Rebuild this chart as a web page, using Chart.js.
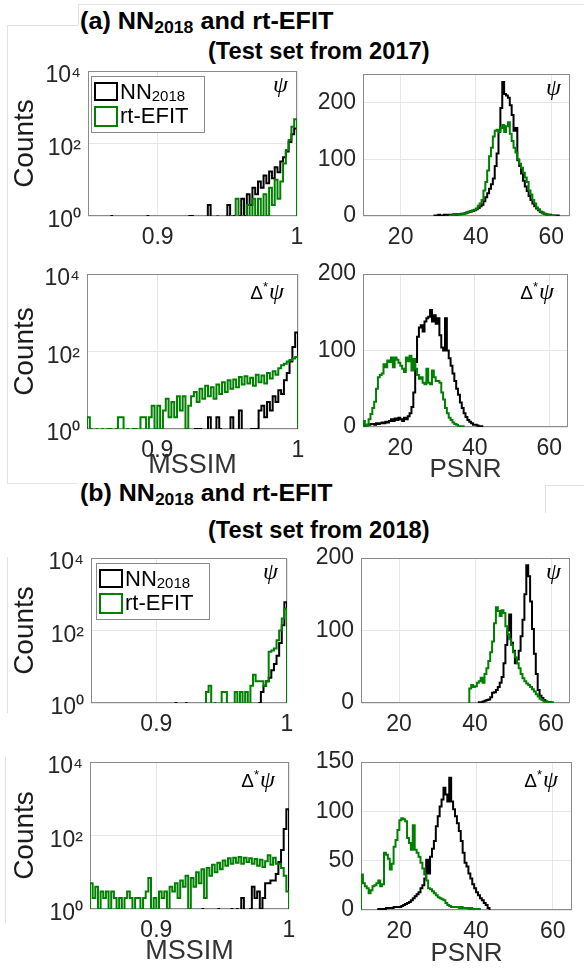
<!DOCTYPE html>
<html lang="en">
<head>
<meta charset="UTF-8">
<title>MSSIM and PSNR histograms</title>
<script src="https://cdn.jsdelivr.net/npm/chart.js"></script>
<style>
  body { margin: 0; background: #fff; width: 584px; height: 971px; position: relative; overflow: hidden;
         font-family: 'Liberation Sans', Arial, sans-serif; }
  canvas { position: absolute; }
  .title { position: absolute; font-weight: bold; color: #000; white-space: nowrap; line-height: 1;
           transform-origin: left top; font-size: 23px; }
  .title sub { font-size: 0.7em; vertical-align: -0.25em; line-height: 0; }
  .frame { position: absolute; background: #e2e2e2; }
</style>
</head>
<body>
<div class="frame" style="left:78px;top:4px;width:506px;height:1px"></div>
<div class="frame" style="left:78px;top:4px;width:1px;height:21px"></div>
<div class="frame" style="left:7px;top:25px;width:71px;height:1px"></div>
<div class="frame" style="left:7px;top:25px;width:1px;height:458px"></div>
<div class="frame" style="left:7px;top:483px;width:70px;height:1px"></div>
<div class="frame" style="left:545px;top:485px;width:39px;height:1px"></div>
<div class="frame" style="left:545px;top:485px;width:1px;height:28px"></div>
<div class="frame" style="left:7px;top:557px;width:1px;height:156px"></div>
<div class="frame" style="left:5px;top:757px;width:1px;height:166px"></div>

<div class="title" data-w="253" style="left:80px;top:10px">(a) NN<sub>2018</sub> and rt-EFIT</div>
<div class="title" data-w="222" style="left:208px;top:40px">(Test set from 2017)</div>
<div class="title" data-w="253" style="left:80px;top:482px">(b) NN<sub>2018</sub> and rt-EFIT</div>
<div class="title" data-w="222" style="left:208px;top:519px">(Test set from 2018)</div>

<canvas id="p1" width="305" height="204" style="left:0;top:58px"></canvas>
<canvas id="p2" width="294" height="204" style="left:290px;top:58px"></canvas>
<canvas id="p3" width="305" height="223" style="left:0;top:262px"></canvas>
<canvas id="p4" width="294" height="223" style="left:290px;top:262px"></canvas>
<canvas id="p5" width="305" height="200" style="left:0;top:545px"></canvas>
<canvas id="p6" width="294" height="200" style="left:290px;top:545px"></canvas>
<canvas id="p7" width="305" height="223" style="left:0;top:748px"></canvas>
<canvas id="p8" width="294" height="223" style="left:290px;top:748px"></canvas>

<script>
// histogram bins
const MSSIM_START = 0.85;
const MSSIM_WIDTH = 0.002;   // 75 bins, 0.85 .. 1.0
const PSNR_WIDTH = 0.5;

// tick values
const mssimTicks = [0.9, 1];
const psnrTicks = [20, 40, 60];
const logTicks = [1, 100, 10000];
const countTicks200 = [0, 100, 200];
const countTicks150 = [0, 50, 100, 150];

// (a) test set from 2017, psi, MSSIM
const aPsiMssimNN = [
  0,0,0,0,0,0,0,0,1,0, 0,0,0,0,0,0,0,0,0,0, 0,1,0,0,0,0,0,0,0,0, 0,0,0,0,0,0,1,1,0,0,
  0,0,0,2,0,0,0,0,0,0, 2,0,1,0,1,3,1,4,2,6, 4,9,6,13,8,17,11,22,16,32, 42,60,110,180,260];
const aPsiMssimEFIT = [
  0,0,0,0,0,0,0,0,0,0, 0,0,0,0,0,0,0,0,0,0, 0,0,0,0,0,0,0,0,0,0, 0,0,0,0,0,0,0,0,0,0,
  0,0,0,0,0,0,1,0,0,0, 0,1,0,3,0,1,0,2,0,3, 1,3,1,4,1,6,2,10,3,9, 28,66,125,290,466];

// (a) psi, PSNR
const aPsiPsnrNNStart = 29;
const aPsiPsnrNN = [
  1,1,2,1,1,2,2,1,2,2, 3,2,3,3,4,4,5,6,7,8, 9,10,12,14,17,20,26,33,40,48,
  56,66,88,110,150,190,236,215,212,208, 195,178,150,155,98,88,75,62,52,44,
  35,28,22,17,13,10,7,6,4,3, 2,2,1,1,1,1];
const aPsiPsnrEFITStart = 33;
const aPsiPsnrEFIT = [
  1,1,2,2,2,3,3,4,5,6, 8,9,10,11,13,18,22,28,45,60, 80,105,120,140,150,152,148,155,160,148,
  158,165,145,132,120,112,100,92,85,76, 68,60,45,38,28,22,15,12,8,5, 4,3,2,1,1,1];

// (a) delta* psi, MSSIM
const aDpsiMssimNN = [
  0,0,0,0,0,0,0,0,0,0, 0,0,0,0,0,0,0,0,0,0, 0,0,0,0,0,0,0,0,0,0, 0,0,0,0,0,0,0,0,1,1,
  1,0,0,2,0,0,2,1,0,0, 0,2,0,0,3,0,0,0,1,1, 1,3,4,2,5,3,7,5,10,8, 18,28,55,130,310];
const aDpsiMssimEFIT = [
  2,1,0,1,0,1,0,1,1,0, 1,2,2,0,1,0,1,1,0,2, 2,0,2,4,1,4,1,3,6,2, 5,2,7,3,7,1,4,7,9,5,
  11,6,13,7,12,6,14,8,16,9, 18,11,19,12,22,14,23,15,21,13, 25,16,24,15,28,20,31,25,37,44, 48,55,60,66,72];

// (a) delta* psi, PSNR
const aDpsiPsnrNNStart = 10;
const aDpsiPsnrNN = [
  3,2,3,3,4,4,3,5,4,5, 6,5,7,6,8,10,8,11,9,12, 10,8,12,10,14,18,26,45,85,118,
  130,133,125,138,142,144,153,138,146,135, 142,120,104,100,142,100,90,80,70,60,
  50,42,32,25,18,13,9,7,5,3, 3,2,1,1];
const aDpsiPsnrEFITStart = 10;
const aDpsiPsnrEFIT = [
  8,3,2,10,17,25,33,50,65,68, 70,82,78,87,85,91,78,91,88,84, 80,76,72,91,86,93,74,89,76,68,
  63,65,58,56,76,58,56,74,65,60, 60,58,45,36,25,18,12,9,6,4, 3,1,1,1];

// (b) test set from 2018, psi, MSSIM
const bPsiMssimNN = [
  0,0,0,0,0,0,0,0,0,0, 0,0,0,0,0,0,0,0,0,0, 0,0,0,0,0,0,0,0,0,0, 0,0,1,0,0,0,1,0,0,0,
  0,0,0,0,0,0,0,0,0,0, 0,0,0,0,0,0,0,0,0,0, 0,0,0,0,1,2,3,4,5,8, 12,20,45,140,600];
const bPsiMssimEFIT = [
  0,0,0,0,0,0,0,0,0,0, 0,0,0,0,0,0,0,0,0,0, 0,0,0,0,0,0,0,0,0,0, 0,0,0,0,0,0,0,0,0,0,
  0,0,0,0,2,3,0,1,0,0, 2,2,0,0,0,2,0,2,0,2, 0,3,6,4,4,4,3,4,26,28, 32,54,100,214,400];

// (b) psi, PSNR
const bPsiPsnrNNStart = 41;
const bPsiPsnrNN = [
  1,1,2,3,4,5,8,14,15,18, 22,28,36,55,80,100,122,83,72,55,
  60,72,92,115,150,190,175,140,102,68, 40,18,10,7,4,2,1,1];
const bPsiPsnrEFITStart = 38.5;
const bPsiPsnrEFIT = [
  20,25,22,23,28,30,35,28,40,48, 58,70,85,110,132,127,120,128,124,106,
  95,88,80,70,63,55,48,40,34,30, 27,25,22,19,16,12,9,6,4,2, 2,1,1,1];

// (b) delta* psi, MSSIM
const bDpsiMssimNN = [
  0,0,0,0,0,0,0,0,0,0, 0,0,0,0,0,0,0,0,0,0, 0,0,0,0,0,0,0,0,0,0, 0,0,0,0,0,0,0,0,0,0,
  0,0,1,0,0,0,0,0,1,0, 0,0,0,1,0,1,0,2,0,0, 1,4,2,3,1,2,5,5,6,6, 9,19,40,150,520];
const bDpsiMssimEFIT = [
  5,2,4,1,3,2,3,1,3,2, 1,2,0,2,3,2,0,2,2,1, 2,3,7,1,2,0,3,2,3,1, 4,3,5,2,6,4,8,1,7,4,
  10,5,12,2,13,8,16,10,18,12, 21,15,24,17,25,18,26,17,25,19, 24,17,23,15,22,14,20,29,16,25, 17,17,13,8,3];

// (b) delta* psi, PSNR
const bDpsiPsnrNNStart = 14.5;
const bDpsiPsnrNN = [
  1,1,1,1,2,2,2,2,3,3, 3,3,4,5,6,7,8,10,12,14, 16,18,22,25,32,51,37,54,62,70,
  85,95,105,112,124,117,110,134,110,102, 95,88,80,70,58,48,44,37,32,26,
  22,18,15,12,10,7,5,2];
const bDpsiPsnrEFITStart = 10;
const bDpsiPsnrEFIT = [
  36,27,24,22,17,20,24,25,27,30, 24,26,58,56,52,41,47,64,71,81, 91,93,92,90,73,68,61,86,61,58,
  54,48,42,36,30,22,21,19,17,15, 13,12,11,10,7,5,4,3,3,3, 3,2,3,2,2,2,1,2,1,1, 1,1];

const NN_COLOR = '#000000';
const EFIT_COLOR = '#008000';
const FONT = "'Liberation Sans', Arial, sans-serif";
const SUP = {0: '\u2070', 2: '\u00b2', 4: '\u2074'};

// stairs outline of a histogram; bins with zero count leave a gap (as on a log axis)
function stairs(start, width, counts, base) {
  const pts = [];
  let prev = 0;
  counts.forEach((c, i) => {
    const x0 = start + i * width;
    if (c > 0) {
      if (prev === 0) pts.push({x: x0, y: base});
      pts.push({x: x0, y: c}, {x: x0 + width, y: c});
    } else if (prev > 0) {
      pts.push({x: x0, y: base}, {x: x0, y: null});
    }
    prev = c;
  });
  if (prev > 0) pts.push({x: start + counts.length * width, y: base});
  return pts;
}

const decor = {
  id: 'decor',
  beforeDatasetsDraw(chart) {
    const a = chart.chartArea, ctx = chart.ctx;
    ctx.save();
    ctx.strokeStyle = '#8a8a8a';
    ctx.lineWidth = 1;
    ctx.strokeRect(a.left + 0.5, a.top + 0.5, a.width - 1, a.height - 1);
    ctx.restore();
  },
  afterDatasetsDraw(chart, args, opts) {
    const a = chart.chartArea, ctx = chart.ctx;
    ctx.save();
    ctx.fillStyle = '#000';
    ctx.textBaseline = 'alphabetic';
    ctx.textAlign = 'left';
    if (opts.label === 'psi') {
      ctx.font = "italic 24px 'Liberation Serif', serif";
      const w = ctx.measureText('\u03c8').width;
      ctx.fillText('\u03c8', a.right - 9 - w, a.top + 21);
    } else if (opts.label === 'dpsi') {
      const f1 = "19px " + FONT, f2 = "13px " + FONT, f3 = "italic 24px 'Liberation Serif', serif";
      ctx.font = f1; const w1 = ctx.measureText('\u0394').width;
      ctx.font = f2; const w2 = ctx.measureText('*').width;
      ctx.font = f3; const w3 = ctx.measureText('\u03c8').width;
      let x = a.right - 14 - (w1 + w2 + w3 + 1);
      const y = a.top + 25;
      ctx.font = f1; ctx.fillText('\u0394', x, y); x += w1;
      ctx.font = f2; ctx.fillText('*', x, y - 8); x += w2 + 1;
      ctx.font = f3; ctx.fillText('\u03c8', x, y);
    }
    if (opts.legend) {
      const bx = a.left + opts.legend[0], by = a.top + opts.legend[1];
      ctx.fillStyle = '#fff';
      ctx.fillRect(bx, by, 113, 56);
      ctx.strokeStyle = '#8a8a8a';
      ctx.lineWidth = 1;
      ctx.strokeRect(bx + 0.5, by + 0.5, 113, 56);
      ctx.lineWidth = 2;
      ctx.strokeStyle = NN_COLOR;
      ctx.strokeRect(bx + 4, by + 7, 22, 17);
      ctx.strokeStyle = EFIT_COLOR;
      ctx.strokeRect(bx + 4, by + 31, 22, 19);
      ctx.fillStyle = '#000';
      ctx.font = "22px " + FONT;
      ctx.fillText('NN', bx + 29, by + 23);
      const wn = ctx.measureText('NN').width;
      ctx.font = "15px " + FONT;
      ctx.fillText('2018', bx + 29 + wn, by + 25);
      ctx.font = "22px " + FONT;
      ctx.fillText('rt-EFIT', bx + 29, by + 47);
    }
    ctx.restore();
  }
};

function makeChart(p) {
  const cv = document.getElementById(p.id);
  const [L, T, R, B] = p.area;
  const cx = parseFloat(cv.style.left), cy = parseFloat(cv.style.top);
  const yW = L - cx, padTop = T - cy, padRight = cx + cv.width - R, xH = cy + cv.height - B;
  const isLog = p.log;
  const tickFont = {family: FONT, size: 23};
  const yTitle = p.yTitle ? {display: true, text: 'Counts', color: '#1a1a1a',
    font: {family: FONT, size: 28, lineHeight: 1}, padding: {top: 11, bottom: 0}} : {display: false};
  const xTitle = p.xTitle ? {display: true, text: p.xTitle, color: '#333',
    font: {family: FONT, size: p.xTitleSize, lineHeight: 1}, padding: {top: 0, bottom: p.xTitlePad}} : {display: false};
  const base = isLog ? 1 : 0;
  new Chart(cv, {
    type: 'line',
    data: {
      datasets: [
        {label: 'rt-EFIT', data: stairs(p.efit[0], p.efit[1], p.efit[2], base),
         borderColor: EFIT_COLOR, borderWidth: 2, pointRadius: 0, tension: 0, spanGaps: false},
        {label: 'NN2018', data: stairs(p.nn[0], p.nn[1], p.nn[2], base),
         borderColor: NN_COLOR, borderWidth: 2, pointRadius: 0, tension: 0, spanGaps: false}
      ]
    },
    options: {
      responsive: false,
      animation: false,
      events: [],
      layout: {autoPadding: false, padding: {left: 0, top: padTop, right: padRight, bottom: 0}},
      plugins: {legend: {display: false}, tooltip: {enabled: false}, decor: {label: p.label, legend: p.legend}},
      scales: {
        x: {
          type: 'linear', min: p.xMin, max: p.xMax,
          afterBuildTicks: s => { s.ticks = p.xTicks.map(v => ({value: v})); },
          afterFit: s => { s.height = xH; s.paddingLeft = 0; s.paddingRight = 0; },
          ticks: {font: tickFont, color: '#262626', padding: 8, maxRotation: 0, autoSkip: false,
                  callback: v => String(v)},
          grid: {color: '#e6e6e6', drawTicks: false},
          border: {display: false},
          title: xTitle
        },
        y: {
          type: isLog ? 'logarithmic' : 'linear', min: p.yMin, max: p.yMax,
          afterBuildTicks: s => { s.ticks = p.yTicks.map(v => ({value: v})); },
          afterFit: s => { s.width = yW; s.paddingTop = 0; s.paddingBottom = 0; },
          ticks: {font: tickFont, color: '#262626', padding: 7, autoSkip: false,
                  labelOffset: isLog ? 5 : 0,
                  callback: v => isLog ? '10' + SUP[Math.round(Math.log10(v))] : String(v)},
          grid: {color: '#e6e6e6', drawTicks: false},
          border: {display: false},
          title: yTitle
        }
      }
    },
    plugins: [decor]
  });
}

const mssimX = {xMin: 0.85, xMax: 1, xTicks: mssimTicks, log: true, yMin: 1, yMax: 10000, yTicks: logTicks, yTitle: true};
const psnrX = {xMin: 10, xMax: 65, xTicks: psnrTicks, log: false, yMin: 0};

const panels = [
  Object.assign({id: 'p1', area: [88, 71, 297, 216], label: 'psi', legend: [3, 5],
    nn: [MSSIM_START, MSSIM_WIDTH, aPsiMssimNN], efit: [MSSIM_START, MSSIM_WIDTH, aPsiMssimEFIT]}, mssimX),
  Object.assign({id: 'p2', area: [363, 74, 570, 216], label: 'psi', yMax: 250, yTicks: countTicks200,
    nn: [aPsiPsnrNNStart, PSNR_WIDTH, aPsiPsnrNN], efit: [aPsiPsnrEFITStart, PSNR_WIDTH, aPsiPsnrEFIT]}, psnrX),
  Object.assign({id: 'p3', area: [87, 274, 298, 429], label: 'dpsi', xTitle: 'MSSIM', xTitleSize: 27, xTitlePad: 6,
    nn: [MSSIM_START, MSSIM_WIDTH, aDpsiMssimNN], efit: [MSSIM_START, MSSIM_WIDTH, aDpsiMssimEFIT]}, mssimX),
  Object.assign({id: 'p4', area: [363, 274, 568, 427], label: 'dpsi', yMax: 200, yTicks: countTicks200,
    xTitle: 'PSNR', xTitleSize: 26, xTitlePad: 2,
    nn: [aDpsiPsnrNNStart, PSNR_WIDTH, aDpsiPsnrNN], efit: [aDpsiPsnrEFITStart, PSNR_WIDTH, aDpsiPsnrEFIT]}, psnrX),
  Object.assign({id: 'p5', area: [91, 558, 287, 703], label: 'psi', legend: [5, 5],
    nn: [MSSIM_START, MSSIM_WIDTH, bPsiMssimNN], efit: [MSSIM_START, MSSIM_WIDTH, bPsiMssimEFIT]}, mssimX),
  Object.assign({id: 'p6', area: [361, 558, 570, 703], label: 'psi', yMax: 200, yTicks: countTicks200,
    nn: [bPsiPsnrNNStart, PSNR_WIDTH, bPsiPsnrNN], efit: [bPsiPsnrEFITStart, PSNR_WIDTH, bPsiPsnrEFIT]}, psnrX),
  Object.assign({id: 'p7', area: [90, 762, 289, 909], label: 'dpsi', xTitle: 'MSSIM', xTitleSize: 27, xTitlePad: 6,
    nn: [MSSIM_START, MSSIM_WIDTH, bDpsiMssimNN], efit: [MSSIM_START, MSSIM_WIDTH, bDpsiMssimEFIT]}, mssimX),
  Object.assign({id: 'p8', area: [361, 762, 572, 910], label: 'dpsi', yMax: 150, yTicks: countTicks150,
    xTitle: 'PSNR', xTitleSize: 26, xTitlePad: 4,
    nn: [bDpsiPsnrNNStart, PSNR_WIDTH, bDpsiPsnrNN], efit: [bDpsiPsnrEFITStart, PSNR_WIDTH, bDpsiPsnrEFIT]}, psnrX)
];

panels.forEach(makeChart);

// stretch the panel titles to the width they have in the figure
document.querySelectorAll('.title').forEach(el => {
  el.style.transform = 'scaleX(' + (parseFloat(el.dataset.w) / el.offsetWidth) + ')';
});
</script>
</body>
</html>
